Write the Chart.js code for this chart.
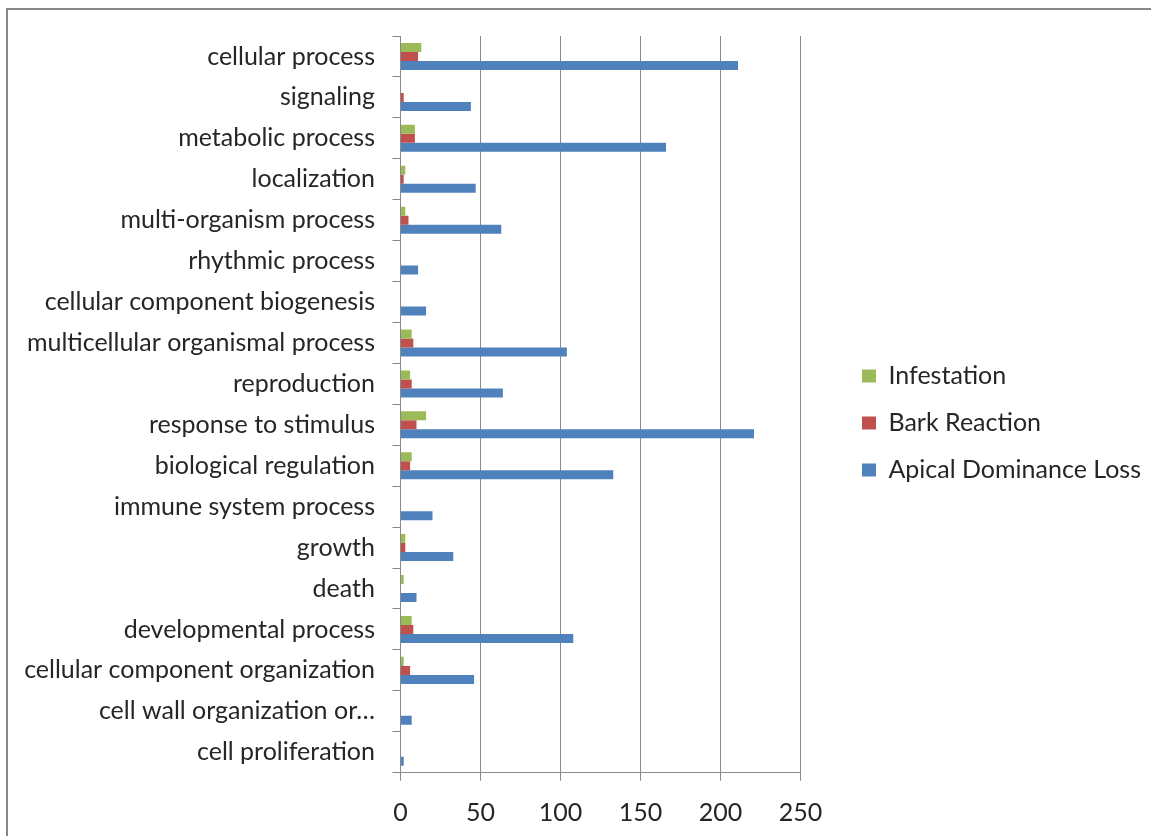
<!DOCTYPE html>
<html>
<head>
<meta charset="utf-8">
<script src="https://cdn.jsdelivr.net/npm/chart.js@4"></script>
<style>
  html, body { margin: 0; padding: 0; background: #fff; }
  #wrap { position: relative; width: 1151px; height: 836px; overflow: hidden; }
  #frame { position: absolute; left: 6px; top: 8px; width: 1200px; height: 900px;
           border-left: 2px solid #878787; border-top: 2px solid #878787; }
  #chartBox { position: absolute; left: 0; top: 0; width: 1151px; height: 836px; }
</style>
</head>
<body>
<div id="wrap">
  <div id="frame"></div>
  <div id="chartBox"><canvas id="goChart"></canvas></div>
</div>
<script>
// GO categories, top to bottom
const categories = [
    'cellular process',
    'signaling',
    'metabolic process',
    'localization',
    'multi-organism process',
    'rhythmic process',
    'cellular component biogenesis',
    'multicellular organismal process',
    'reproduction',
    'response to stimulus',
    'biological regulation',
    'immune system process',
    'growth',
    'death',
    'developmental process',
    'cellular component organization',
    'cell wall organization or\u2026',
    'cell proliferation'
];

const infestation = [13, 0, 9, 3, 3, 0, 0, 7, 6, 16, 7, 0, 3, 2, 7, 2, 0, 0];
const barReaction = [11, 2, 9, 2, 5, 0, 0, 8, 7, 10, 6, 0, 3, 0, 8, 6, 0, 0];
const apicalLoss = [211, 44, 166, 47, 63, 11, 16, 104, 64, 221, 133, 20, 33, 10, 108, 46, 7, 2];

const xMin = 0;
const xMax = 250;
const xStep = 50;

const FONT = 'Lato, "Open Sans", sans-serif';
const FONT_SIZE = 25;
const TEXT = '#262626';
const GRID = '#898989';

const ctx = document.getElementById('goChart').getContext('2d');
const chart = new Chart(ctx, {
    type: 'bar',
    data: {
        labels: categories,
        datasets: [
            { label: 'Infestation', data: infestation, backgroundColor: '#9BBB59', borderWidth: 0 },
            { label: 'Bark Reaction', data: barReaction, backgroundColor: '#C0504D', borderWidth: 0 },
            { label: 'Apical Dominance Loss', data: apicalLoss, backgroundColor: '#4F81BD', borderWidth: 0 }
        ]
    },
    options: {
        indexAxis: 'y',
        responsive: true,
        maintainAspectRatio: false,
        animation: false,
        categoryPercentage: 0.66,
        barPercentage: 1,
        layout: {
            padding: { top: 36, bottom: 5, left: 0, right: 0 }
        },
        scales: {
            x: {
                min: xMin,
                max: xMax,
                ticks: { stepSize: xStep, padding: 17, color: TEXT, font: { family: FONT, size: FONT_SIZE } },
                grid: { color: GRID, tickLength: 8 },
                border: { color: GRID },
                afterFit: (s) => { s.height = 58.3; }
            },
            y: {
                type: 'category',
                grid: { display: true, drawOnChartArea: false, offset: true, tickLength: 8, color: GRID },
                border: { color: GRID },
                ticks: { autoSkip: false, padding: 17.5, color: TEXT, font: { family: FONT, size: FONT_SIZE } },
                afterFit: (s) => { s.width = 400.5; }
            },
            // empty spacer between the plot and the legend
            gap: {
                axis: 'y',
                type: 'linear',
                position: 'right',
                grid: { display: false },
                border: { display: false },
                ticks: { display: false },
                afterFit: (s) => { s.width = 39.6; }
            }
        },
        plugins: {
            legend: {
                position: 'right',
                fullSize: false,
                maxWidth: 500,
                title: { display: true, text: '', font: { size: 10 }, padding: { top: 25.3, bottom: 0 } },
                labels: {
                    boxWidth: 14,
                    boxHeight: 13,
                    padding: 22,
                    color: TEXT,
                    font: { family: FONT, size: FONT_SIZE }
                }
            },
            tooltip: { enabled: false }
        }
    }
});
</script>
</body>
</html>
